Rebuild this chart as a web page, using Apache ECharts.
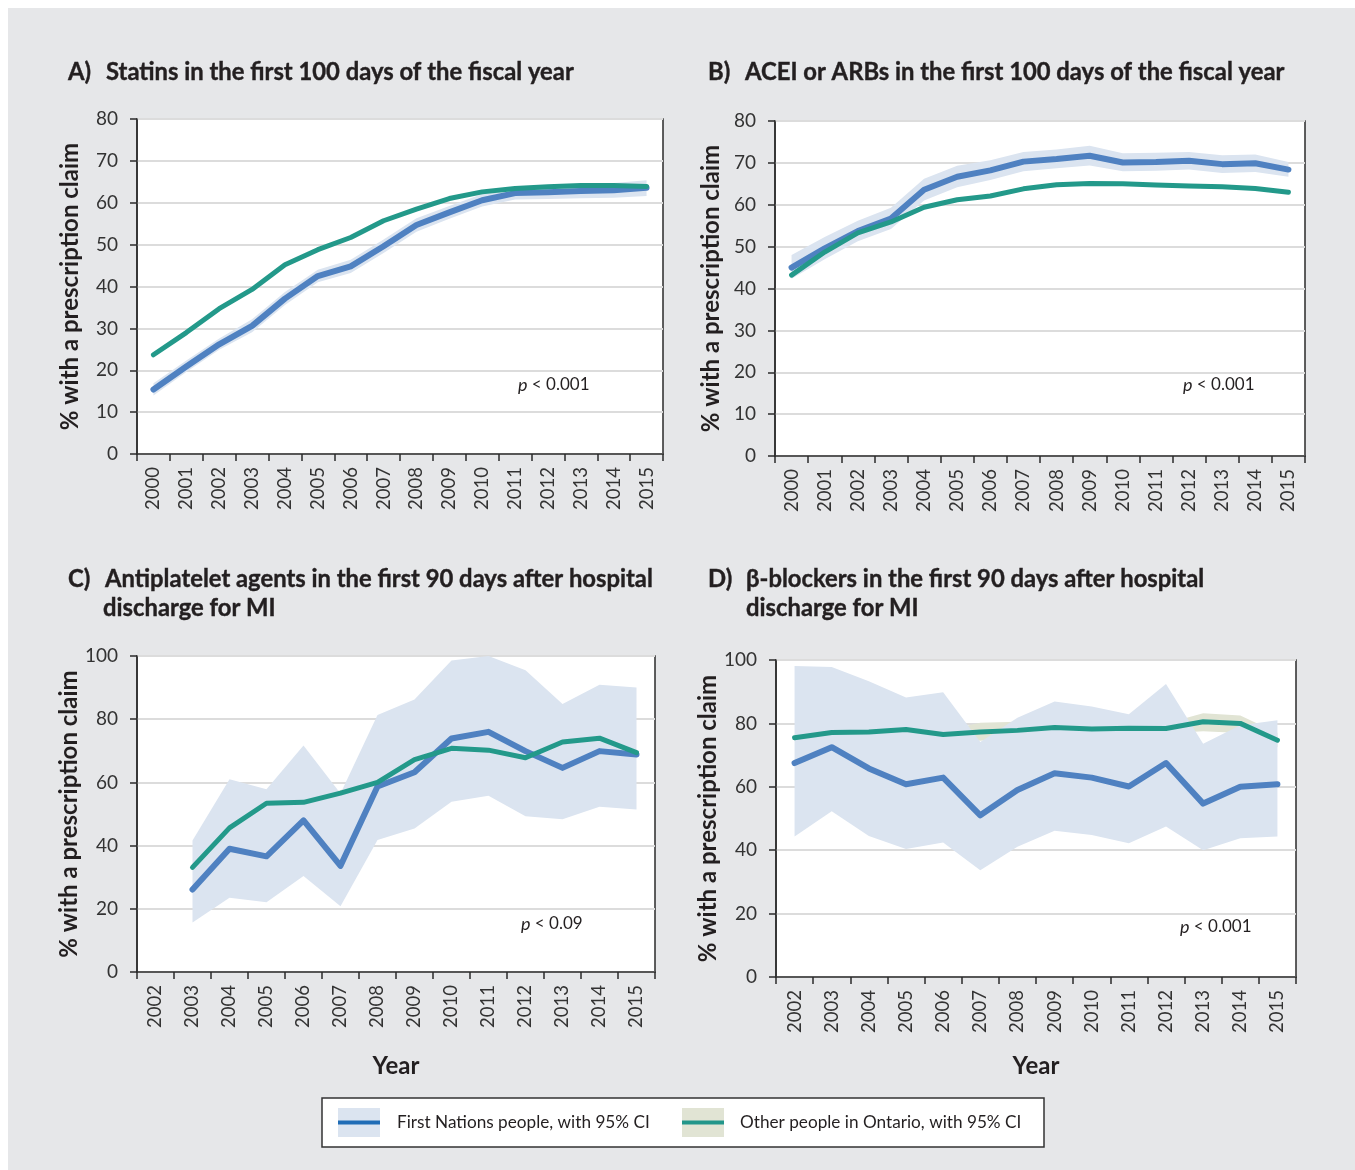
<!DOCTYPE html>
<html><head><meta charset="utf-8">
<script src="https://cdn.jsdelivr.net/npm/echarts@6/dist/echarts.min.js"></script>
<style>
html,body{margin:0;padding:0;background:#fff;}
#bg{position:absolute;left:8px;top:8px;width:1347px;height:1162px;background:#e6e7e9;}
#c{position:absolute;left:0;top:0;width:1355px;height:1170px;}
</style>
</head><body><div id="bg"></div><div id="c"></div>
<script>
// ---------- data ----------
const yearsAB = ['2000','2001','2002','2003','2004','2005','2006','2007','2008','2009','2010','2011','2012','2013','2014','2015'];
const yearsCD = ['2002','2003','2004','2005','2006','2007','2008','2009','2010','2011','2012','2013','2014','2015'];

// A) Statins
const statinsFN     = [15.4,20.9,26.2,30.6,37.1,42.5,44.8,49.6,54.7,57.7,60.6,62.3,62.5,62.8,63.0,63.6];
const statinsFNLow  = [14.0,19.6,24.9,29.1,35.6,41.0,43.2,48.0,53.1,56.2,59.1,60.8,60.9,61.1,61.2,61.6];
const statinsFNHigh = [16.9,22.3,27.6,32.2,38.7,44.0,46.4,51.2,56.3,59.2,62.1,63.8,64.1,64.4,64.7,65.4];
const statinsON     = [23.7,29.0,34.7,39.3,45.2,48.8,51.7,55.7,58.5,61.0,62.6,63.4,63.8,64.1,64.1,63.9];
const statinsONLow  = [23.3,28.6,34.3,38.9,44.8,48.4,51.3,55.3,58.1,60.6,62.2,63.0,63.4,63.7,63.7,63.5];
const statinsONHigh = [24.1,29.4,35.1,39.7,45.6,49.2,52.1,56.1,58.9,61.4,63.0,63.8,64.2,64.5,64.5,64.3];

// B) ACEI or ARBs
const aceiFN     = [45.0,49.6,53.7,56.7,63.6,66.7,68.2,70.3,70.9,71.7,70.1,70.2,70.5,69.7,69.9,68.4];
const aceiFNLow  = [42.3,47.0,51.3,54.2,61.0,64.2,65.9,68.0,68.7,69.4,68.0,68.1,68.4,67.6,67.8,66.7];
const aceiFNHigh = [48.0,52.3,56.2,59.3,66.2,69.3,70.6,72.6,73.2,74.1,72.3,72.4,72.6,71.8,72.0,70.2];
const aceiON     = [43.2,48.7,53.3,55.9,59.4,61.2,62.1,63.8,64.8,65.1,65.0,64.7,64.5,64.3,63.9,63.0];
const aceiONLow  = [42.9,48.4,53.0,55.6,59.1,60.9,61.8,63.5,64.5,64.8,64.7,64.4,64.2,64.0,63.6,62.7];
const aceiONHigh = [43.5,49.0,53.6,56.2,59.7,61.5,62.4,64.1,65.1,65.4,65.3,65.0,64.8,64.6,64.2,63.3];

// C) Antiplatelet agents
const antiFN     = ['-',26.1,39.0,36.6,48.0,33.6,58.7,63.2,73.9,76.0,69.9,64.6,69.9,68.8];
const antiFNLow  = ['-',15.7,23.5,22.1,30.4,20.8,41.8,45.4,53.9,55.8,49.3,48.3,52.3,51.4];
const antiFNHigh = ['-',41.6,61.0,57.8,71.7,56.5,81.3,86.2,98.6,100.0,95.5,84.8,90.9,90.0];
const antiON     = ['-',33.1,45.6,53.4,53.7,56.6,60.0,67.2,70.8,70.2,67.8,72.8,74.0,69.4];
const antiONLow  = ['-',32.1,44.6,52.4,52.7,55.6,59.0,66.2,69.8,69.2,66.8,71.8,73.0,68.4];
const antiONHigh = ['-',34.1,46.6,54.4,54.7,57.6,61.0,68.2,71.8,71.2,68.8,73.8,75.0,70.4];

// D) Beta-blockers
const betaFN     = [67.5,72.5,65.8,60.8,62.9,51.0,59.0,64.3,62.9,60.1,67.5,54.7,60.0,60.8];
const betaFNLow  = [44.3,52.3,44.5,40.4,42.4,33.7,41.1,46.1,44.8,42.2,47.5,40.0,43.8,44.3];
const betaFNHigh = [98.1,97.8,93.3,88.2,89.8,74.1,81.8,86.9,85.3,82.9,92.4,73.6,79.4,81.0];
const betaON     = [75.5,77.1,77.3,78.1,76.5,77.3,77.8,78.7,78.2,78.5,78.4,80.5,80.0,74.7];
const betaONLow  = [74.5,76.0,76.3,77.0,75.3,74.5,75.5,77.3,76.8,77.0,76.8,77.5,77.0,72.5];
const betaONHigh = [76.5,78.2,78.3,79.2,77.7,80.2,80.5,80.0,79.5,80.0,80.0,83.2,82.5,77.0];

const titles = [
  ['A)', ['Statins in the first 100 days of the fiscal year']],
  ['B)', ['ACEI or ARBs in the first 100 days of the fiscal year']],
  ['C)', ['Antiplatelet agents in the first 90 days after hospital', 'discharge for MI']],
  ['D)', ['\u03b2-blockers in the first 90 days after hospital', 'discharge for MI']]
];
const pValues = ['0.001', '0.001', '0.09', '0.001'];
const legendNames = ['First Nations people, with 95% CI', 'Other people in Ontario, with 95% CI'];
const yAxisName = '% with a prescription claim';
const xAxisName = 'Year';

// ---------- styles ----------
const BLUE = '#4f81c1', TEAL = '#23998a', BLUE_BAND = '#dbe4f0', TEAL_BAND = '#e1e4d4';
const DARK = '#2b2b2b', GRIDC = '#dcdcdc', INK = '#231f20';
const FONT = 'Lato';

const grids = [
  {left:137, top:119, width:526, height:335},
  {left:775, top:121, width:530, height:335},
  {left:137, top:656, width:518, height:316},
  {left:776, top:660, width:520, height:317}
];
const yCfg = [
  {max:80, interval:10, gap:55},
  {max:80, interval:10, gap:52},
  {max:100, interval:20, gap:55},
  {max:100, interval:20, gap:53}
];
const cats = [yearsAB, yearsAB, yearsCD, yearsCD];

function diff(hi, lo){ return hi.map((h,i)=> (h==='-'||lo[i]==='-') ? '-' : +(h-lo[i]).toFixed(2)); }
function band(idx, lo, hi, color, key){
  return [
    {type:'line', xAxisIndex:idx, yAxisIndex:idx, data:lo, stack:key, symbol:'none', silent:true,
     lineStyle:{opacity:0}, z:1},
    {type:'line', xAxisIndex:idx, yAxisIndex:idx, data:diff(hi,lo), stack:key, symbol:'none', silent:true,
     lineStyle:{opacity:0}, areaStyle:{color:color, opacity:1}, z:1}
  ];
}
function line(idx, data, color, w, z){
  return {type:'line', xAxisIndex:idx, yAxisIndex:idx, data:data, symbol:'none', silent:true,
    lineStyle:{color:color, width:w, cap:'round', join:'round'}, z:z};
}
const panels = [
  [statinsFN, statinsFNLow, statinsFNHigh, statinsON, statinsONLow, statinsONHigh],
  [aceiFN, aceiFNLow, aceiFNHigh, aceiON, aceiONLow, aceiONHigh],
  [antiFN, antiFNLow, antiFNHigh, antiON, antiONLow, antiONHigh],
  [betaFN, betaFNLow, betaFNHigh, betaON, betaONLow, betaONHigh]
];

const series = [];
panels.forEach((p, i) => {
  series.push(...band(i, p[4], p[5], TEAL_BAND, 'on'+i));
  series.push(...band(i, p[1], p[2], BLUE_BAND, 'fn'+i));
  series.push(line(i, p[0], BLUE, 6, 3));
  series.push(line(i, p[3], TEAL, 5, 4));
});

const xAxes = grids.map((g, i) => ({
  type:'category', gridIndex:i, data:cats[i], boundaryGap:true,
  axisLine:{show:true, lineStyle:{color:DARK, width:1.5}},
  axisTick:{show:true, length:7, lineStyle:{color:DARK, width:1.5}},
  axisLabel:{rotate:90, margin:13, fontFamily:FONT, fontSize:18.5, color:'#333'},
  splitLine:{show:false},
  name: i >= 2 ? xAxisName : '', nameLocation:'middle', nameGap: i===2 ? 82 : 77,
  nameTextStyle:{fontFamily:FONT, fontWeight:'bold', fontSize:24, color:INK}
}));
const yAxes = grids.map((g, i) => ({
  type:'value', gridIndex:i, min:0, max:yCfg[i].max, interval:yCfg[i].interval,
  axisLine:{show:true, lineStyle:{color:DARK, width:1.5}},
  axisTick:{show:true, length:7, lineStyle:{color:DARK, width:1.5}},
  axisLabel:{margin:19, fontFamily:FONT, fontSize:19, color:'#333'},
  splitLine:{show:true, lineStyle:{color:GRIDC, width:2}},
  name:yAxisName, nameLocation:'middle', nameRotate:90, nameGap:yCfg[i].gap,
  nameTextStyle:{fontFamily:FONT, fontWeight:'bold', fontSize:24, color:INK}
}));

const graphics = [];
const titlePos = [[68,106,72],[708,745,72],[68,105,579],[708,746,579]];
const TFONT = 'bold 23.8px ' + FONT;
titles.forEach((t, i) => {
  const [lx, tx, ty] = titlePos[i];
  graphics.push({type:'text', style:{text:t[0], x:lx, y:ty, font:TFONT, fill:INK, stroke:INK, lineWidth:0.4, textVerticalAlign:'middle'}});
  t[1].forEach((ln, k) => {
    graphics.push({type:'text', style:{text:ln, x:(k===1 && i===2) ? 103 : tx, y:ty + k*29, font:TFONT, fill:INK, stroke:INK, lineWidth:0.4, textVerticalAlign:'middle'}});
  });
});
const pPos = [[518,385],[1183,385],[521,924],[1180,927]];
pValues.forEach((v, i) => {
  graphics.push({type:'text', style:{text:'{i|p} < ' + v, x:pPos[i][0], y:pPos[i][1], font:'17px '+FONT, fill:INK, textVerticalAlign:'middle',
    rich:{i:{fontStyle:'italic', fontSize:18, fontFamily:FONT, fill:INK}}}});
});
// legend
graphics.push({type:'rect', shape:{x:322, y:1098, width:722, height:49}, style:{fill:'#fff', stroke:'#333', lineWidth:1.5}});
graphics.push({type:'rect', shape:{x:338, y:1108, width:42, height:29}, style:{fill:BLUE_BAND}});
graphics.push({type:'line', shape:{x1:338, y1:1122.5, x2:380, y2:1122.5}, style:{stroke:'#1f6cb6', lineWidth:4}});
graphics.push({type:'text', style:{text:legendNames[0], x:397, y:1122, font:'17.2px '+FONT, fill:INK, textVerticalAlign:'middle'}});
graphics.push({type:'rect', shape:{x:682, y:1108, width:42, height:29}, style:{fill:TEAL_BAND}});
graphics.push({type:'line', shape:{x1:682, y1:1122.5, x2:724, y2:1122.5}, style:{stroke:'#22968a', lineWidth:4}});
graphics.push({type:'text', style:{text:legendNames[1], x:740, y:1122, font:'17.2px '+FONT, fill:INK, textVerticalAlign:'middle'}});

const chart = echarts.init(document.getElementById('c'), null, {renderer:'canvas'});
chart.setOption({
  backgroundColor:'transparent',
  animation:false,
  grid: grids.map(g => Object.assign({show:true, backgroundColor:'#fff', borderColor:DARK, borderWidth:1.5, containLabel:false}, g)),
  xAxis:xAxes,
  yAxis:yAxes,
  series:series,
  graphic:{elements:graphics}
});
</script>
</body></html>
